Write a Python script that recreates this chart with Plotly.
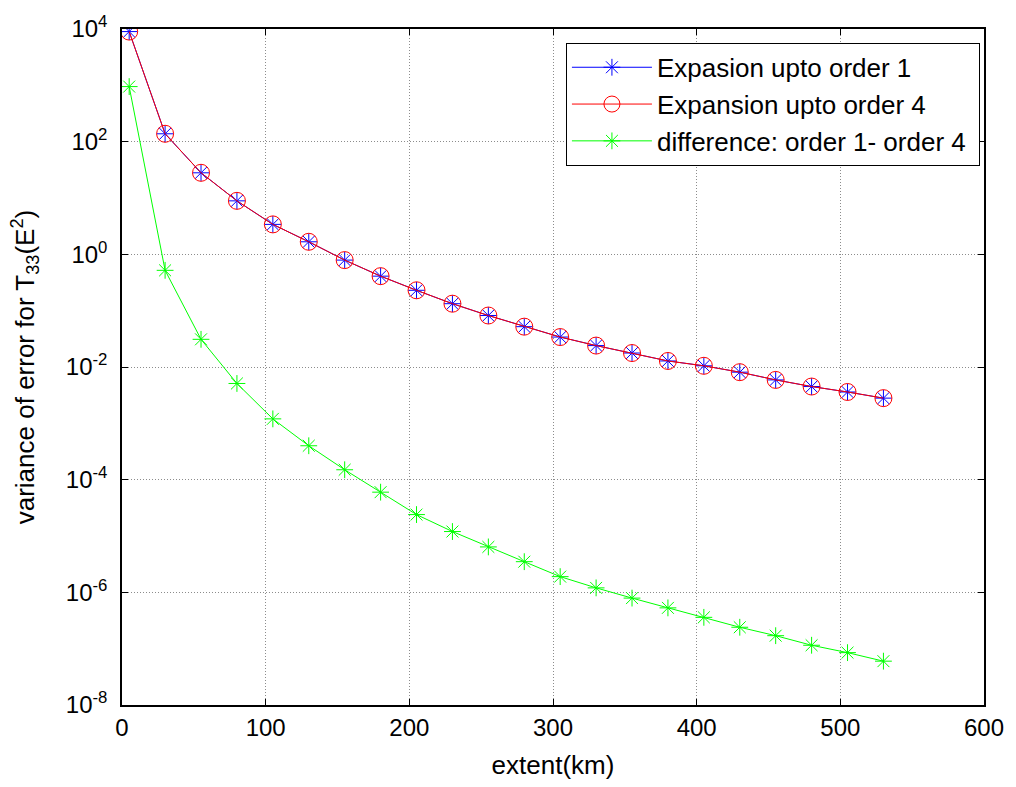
import plotly.graph_objects as go

extent_km = [5, 30, 55, 80, 105, 130, 155, 180, 205, 230, 255, 280, 305, 330,
             355, 380, 405, 430, 455, 480, 505, 530]

order1 = [9000, 138, 28, 8.9, 3.4, 1.67, 0.79, 0.41, 0.23, 0.133, 0.082, 0.052,
          0.034, 0.024, 0.0177, 0.0128, 0.0105, 0.0081, 0.0059, 0.0045, 0.0036, 0.0028]

order4 = [9000, 138, 28, 8.9, 3.4, 1.67, 0.79, 0.41, 0.23, 0.133, 0.082, 0.052,
          0.034, 0.024, 0.0177, 0.0128, 0.0105, 0.0081, 0.0059, 0.0045, 0.0036, 0.0028]

difference = [950, 0.52, 0.031, 0.0051, 0.0012, 4.0e-4, 1.5e-4, 6.0e-5, 2.4e-5,
              1.2e-5, 6.4e-6, 3.5e-6, 1.9e-6, 1.2e-6, 7.9e-7, 5.3e-7, 3.6e-7,
              2.4e-7, 1.7e-7, 1.15e-7, 8.5e-8, 6.0e-8]

x_ticks = [0, 100, 200, 300, 400, 500, 600]
y_tick_exps = [-8, -6, -4, -2, 0, 2, 4]

FONT = "Liberation Sans, Arial, sans-serif"
GRID = dict(showgrid=True, gridcolor="#8c8c8c", griddash="1px,2px", gridwidth=1)

fig = go.Figure()
fig.add_trace(go.Scatter(
    x=extent_km, y=order1, mode="lines+markers", name="Expasion upto order 1",
    line=dict(color="#0000ff", width=1),
    marker=dict(symbol="asterisk-open", size=14, color="#0000ff",
                line=dict(color="#0000ff", width=1)),
))
fig.add_trace(go.Scatter(
    x=extent_km, y=order4, mode="lines+markers", name="Expansion upto order 4",
    line=dict(color="#ff0000", width=1),
    marker=dict(symbol="circle-open", size=17, color="#ff0000",
                line=dict(color="#ff0000", width=1)),
))
fig.add_trace(go.Scatter(
    x=extent_km, y=difference, mode="lines+markers",
    name="difference: order 1- order 4\u00a0",
    line=dict(color="#00ff00", width=1),
    marker=dict(symbol="asterisk-open", size=14, color="#00ff00",
                line=dict(color="#00ff00", width=1)),
))

fig.update_layout(
    width=1016, height=787,
    margin=dict(l=122, r=28, t=29, b=74),
    paper_bgcolor="white", plot_bgcolor="white",
    font=dict(family=FONT, size=24, color="black"),
    showlegend=True,
    legend=dict(
        x=0.515, y=0.9795, xanchor="left", yanchor="top",
        bgcolor="white", bordercolor="black", borderwidth=1,
        font=dict(family=FONT, size=26, color="black"),
        itemwidth=80,
    ),
)

fig.update_xaxes(
    range=[0, 600], tickvals=x_ticks, ticktext=[str(v) for v in x_ticks],
    showline=True, linecolor="black", linewidth=1.5, mirror="ticks",
    ticks="inside", ticklen=6, tickcolor="black",
    zeroline=False, ticklabeloverflow="allow",
    title=dict(text="extent(km)", font=dict(size=26), standoff=16),
    tickfont=dict(size=24),
    **GRID,
)

fig.update_yaxes(
    type="log", range=[-8, 4],
    tickvals=[10.0 ** e for e in y_tick_exps],
    ticktext=["10<sup>%d</sup>" % e for e in y_tick_exps],
    showline=True, linecolor="black", linewidth=1.5, mirror="ticks",
    ticks="inside", ticklen=6, tickcolor="black",
    zeroline=False, ticklabeloverflow="allow",
    ticklabelstandoff=8,
    title=dict(text="variance of error for T<sub>33</sub>(E<sup>2</sup>)",
               font=dict(size=26), standoff=24),
    tickfont=dict(size=24),
    **GRID,
)

fig.write_html("out.html",
               config={"displayModeBar": False},
               post_script="document.body.style.margin='0';document.body.style.overflow='hidden';")
